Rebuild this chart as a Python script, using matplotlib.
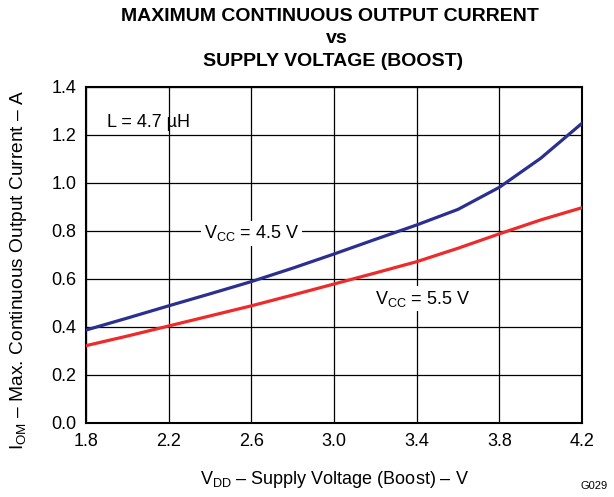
import matplotlib.pyplot as plt
import numpy as np

plt.rcParams['font.family'] = ['Liberation Sans', 'DejaVu Sans']
plt.rcParams['mathtext.fontset'] = 'custom'
plt.rcParams['mathtext.rm'] = 'Liberation Sans'
plt.rcParams['mathtext.it'] = 'Liberation Sans'

# supply voltage (V) and max output current (A)
vdd = [1.8, 2.0, 2.2, 2.4, 2.6, 2.8, 3.0, 3.2, 3.4, 3.6, 3.8, 4.0, 4.2]
iom_45 = [0.387, 0.437, 0.488, 0.538, 0.589, 0.645, 0.704, 0.765, 0.825, 0.890, 0.982, 1.103, 1.249]
iom_55 = [0.322, 0.362, 0.404, 0.446, 0.488, 0.533, 0.579, 0.625, 0.672, 0.728, 0.788, 0.846, 0.897]

xticks = [1.8, 2.2, 2.6, 3.0, 3.4, 3.8, 4.2]
yticks = [0.0, 0.2, 0.4, 0.6, 0.8, 1.0, 1.2, 1.4]

fig = plt.figure(figsize=(6.14, 4.97), dpi=100)
ax = fig.add_axes([0.140, 0.149, 0.808, 0.676])

ax.plot(vdd, iom_45, color='#2b2f8f', lw=2.3, zorder=3)
ax.plot(vdd, iom_55, color='#ee2a2a', lw=2.3, zorder=3)

ax.set_xlim(1.8, 4.2)
ax.set_ylim(0, 1.4)
ax.set_xticks(xticks)
ax.set_yticks(yticks)
ax.set_xticklabels(['%.1f' % v for v in xticks])
ax.set_yticklabels(['%.1f' % v for v in yticks])
ax.tick_params(length=0, labelsize=13, pad=7)
ax.grid(True, color='black', lw=0.9)
for s in ax.spines.values():
    s.set_linewidth(1.5)

ax.text(1.9, 1.25, 'L = 4.7 µH', fontsize=13, va='center', zorder=4)
ax.text(2.6, 0.79, 'V$_{CC}$ = 4.5 V', fontsize=13, ha='center', va='center', zorder=4,
        bbox=dict(facecolor='white', edgecolor='none', pad=2))
ax.text(3.43, 0.518, 'V$_{CC}$ = 5.5 V', fontsize=13, ha='center', va='center', zorder=4,
        bbox=dict(facecolor='white', edgecolor='none', pad=2))

ax.set_xlabel('V$_{DD}$ – Supply Voltage (Boost) – V', fontsize=13, labelpad=14)
ax.set_ylabel('I$_{OM}$ – Max. Continuous Output Current – A', fontsize=13.8)
ax.yaxis.set_label_coords(-0.115, 0.455)

fig.text(0.538, 0.966, 'MAXIMUM CONTINUOUS OUTPUT CURRENT', fontsize=14, fontweight='bold',
         ha='center', va='center')
fig.text(0.548, 0.923, 'vs', fontsize=14, fontweight='bold', ha='center', va='center')
fig.text(0.543, 0.877, 'SUPPLY VOLTAGE (BOOST)', fontsize=14, fontweight='bold',
         ha='center', va='center')
fig.text(0.990, 0.012, 'G029', fontsize=8, ha='right', va='bottom')

fig.savefig('out.png', dpi=100)
